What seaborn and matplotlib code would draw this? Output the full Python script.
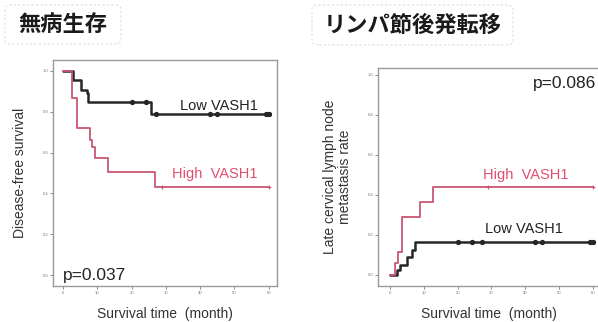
import matplotlib
matplotlib.use("Agg")
import matplotlib.pyplot as plt
from matplotlib.patches import FancyBboxPatch
import seaborn as sns
import pandas as pd

sns.set_style("white")
plt.rcParams['font.family'] = ['Liberation Sans', 'Noto Sans CJK JP', 'DejaVu Sans']

# ---- data ----
titles = ["無病生存", "リンパ節後発転移"]
x_ticks = [0, 10, 20, 30, 40, 50, 60]
y_ticks = [0.0, 0.2, 0.4, 0.6, 0.8, 1.0]
y_tick_labels = ["0.0", "0.2", "0.4", "0.6", "0.8", "1.0"]

# Disease-free survival
dfs_low_t = [0, 3.0, 5.4, 6.9, 7.4, 25.8, 60]
dfs_low_s = [1.0, 0.955, 0.906, 0.89, 0.848, 0.79, 0.79]
dfs_low_cens_t = [20.0, 24.1]
dfs_low_cens_s = [0.848, 0.848]
dfs_low_cens2_t = [27.1, 42.9, 45.0, 59.2, 60.0]
dfs_low_cens2_s = [0.79, 0.79, 0.79, 0.79, 0.79]
dfs_high_t = [0, 2.5, 4.0, 7.9, 8.5, 9.3, 13.2, 26.8, 60]
dfs_high_s = [1.0, 0.867, 0.718, 0.661, 0.628, 0.572, 0.506, 0.433, 0.433]
dfs_high_cens_t = [29.0, 60.0]
dfs_high_cens_s = [0.433, 0.433]
p_dfs = "p=0.037"

# Late cervical lymph node metastasis
lnm_low_t = [0, 2.2, 3.0, 4.9, 6.4, 7.4, 60]
lnm_low_s = [0.0, 0.025, 0.05, 0.09, 0.125, 0.166, 0.166]
lnm_low_cens_t = [20.2, 24.2, 27.1, 42.9, 44.9, 59.2, 60.0]
lnm_low_cens_s = [0.166] * 7
lnm_high_t = [0, 1.5, 2.5, 3.5, 8.9, 12.8, 60]
lnm_high_s = [0.0, 0.06, 0.116, 0.29, 0.365, 0.44, 0.44]
lnm_high_cens_t = [29.0, 60.0]
lnm_high_cens_s = [0.44, 0.44]
p_lnm = "p=0.086"

BLACK = "#262626"
PINK = "#c95672"
PINK_TXT = "#e0506e"

fig = plt.figure(figsize=(5.98, 3.22), dpi=100)

def px_axes(l, t, r, b):
    W, H = 598, 322
    return fig.add_axes([l / W, 1 - b / H, (r - l) / W, (b - t) / H])

def style(ax, xlim, ylim):
    ax.set_xlim(*xlim)
    ax.set_ylim(*ylim)
    ax.set_xticks(x_ticks)
    ax.set_xticklabels([str(v) for v in x_ticks])
    ax.set_yticks(y_ticks)
    ax.set_yticklabels(y_tick_labels)
    ax.tick_params(axis='both', labelsize=3, colors="#777777", length=2, width=0.6,
                   direction='out', pad=1.5, bottom=True, left=True)
    for s in ax.spines.values():
        s.set_visible(True)
        s.set_color("#9a9a9a")
        s.set_linewidth(1.0)
    ax.grid(False)

def step(ax, t, s, color, lw):
    df = pd.DataFrame({"t": t, "s": s})
    sns.lineplot(data=df, x="t", y="s", ax=ax, color=color, linewidth=lw,
                 drawstyle="steps-post", estimator=None)

def cens(ax, t, s, color, marker, size):
    df = pd.DataFrame({"t": t, "s": s})
    sns.scatterplot(data=df, x="t", y="s", ax=ax, color=color, marker=marker,
                    s=size, linewidth=0.8, edgecolor=color, zorder=5)

# ---- left panel ----
ax1 = px_axes(53, 60, 277, 286)
step(ax1, dfs_low_t, dfs_low_s, BLACK, 1.8)
step(ax1, dfs_high_t, dfs_high_s, PINK, 1.3)
cens(ax1, dfs_low_cens_t, dfs_low_cens_s, BLACK, "o", 9)
cens(ax1, dfs_low_cens2_t, dfs_low_cens2_s, BLACK, "o", 9)
cens(ax1, dfs_high_cens_t, dfs_high_cens_s, PINK, "+", 10)
style(ax1, (-2.9, 62.4), (-0.052, 1.052))
ax1.set_xlabel("Survival time  (month)", fontsize=10, color="#333333", labelpad=9)
ax1.set_ylabel("Disease-free survival", fontsize=10, color="#333333", labelpad=11)
ax1.text(0.915, 0.795, "Low VASH1", transform=ax1.transAxes, ha="right", va="center",
         fontsize=10.5, color="#222222")
ax1.text(0.915, 0.495, "High  VASH1", transform=ax1.transAxes, ha="right", va="center",
         fontsize=10.5, color=PINK_TXT)
ax1.text(0.045, 0.045, p_dfs, transform=ax1.transAxes, ha="left", va="center",
         fontsize=12.5, color="#222222")

# ---- right panel ----
ax2 = px_axes(378, 68, 600, 286)
step(ax2, lnm_low_t, lnm_low_s, BLACK, 1.8)
step(ax2, lnm_high_t, lnm_high_s, PINK, 1.3)
cens(ax2, lnm_low_cens_t, lnm_low_cens_s, BLACK, "o", 9)
cens(ax2, lnm_high_cens_t, lnm_high_cens_s, PINK, "+", 10)
style(ax2, (-3.55, 62.1), (-0.055, 1.035))
ax2.set_xlabel("Survival time  (month)", fontsize=10, color="#333333", labelpad=9)
ax2.set_ylabel("Late cervical lymph node\nmetastasis rate", fontsize=10,
               color="#333333", labelpad=11, linespacing=1.15)
ax2.text(0.985, 0.93, p_lnm, transform=ax2.transAxes, ha="right", va="center",
         fontsize=12.5, color="#222222")
ax2.text(0.856, 0.51, "High  VASH1", transform=ax2.transAxes, ha="right", va="center",
         fontsize=10.5, color=PINK_TXT)
ax2.text(0.835, 0.262, "Low VASH1", transform=ax2.transAxes, ha="right", va="center",
         fontsize=10.5, color="#222222")

# ---- title boxes ----
def title_box(l, t, r, b, text):
    W, H = 598, 322
    box = FancyBboxPatch((l / W, 1 - b / H), (r - l) / W, (b - t) / H,
                         boxstyle="round,pad=0,rounding_size=0.012",
                         transform=fig.transFigure, facecolor="white",
                         edgecolor="#dddddd", linewidth=0.8, linestyle=(0, (2, 2)))
    fig.add_artist(box)
    fig.text((l + r) / 2 / W, 1 - (t + b) / 2 / H, text, ha="center", va="center",
             fontsize=16, fontweight="bold", color="#1a1a1a",
             family=["Noto Sans CJK JP", "DejaVu Sans"])

title_box(5, 5, 121, 44, titles[0])
title_box(312, 5, 513, 45, titles[1])

fig.savefig("out.png", dpi=100)
